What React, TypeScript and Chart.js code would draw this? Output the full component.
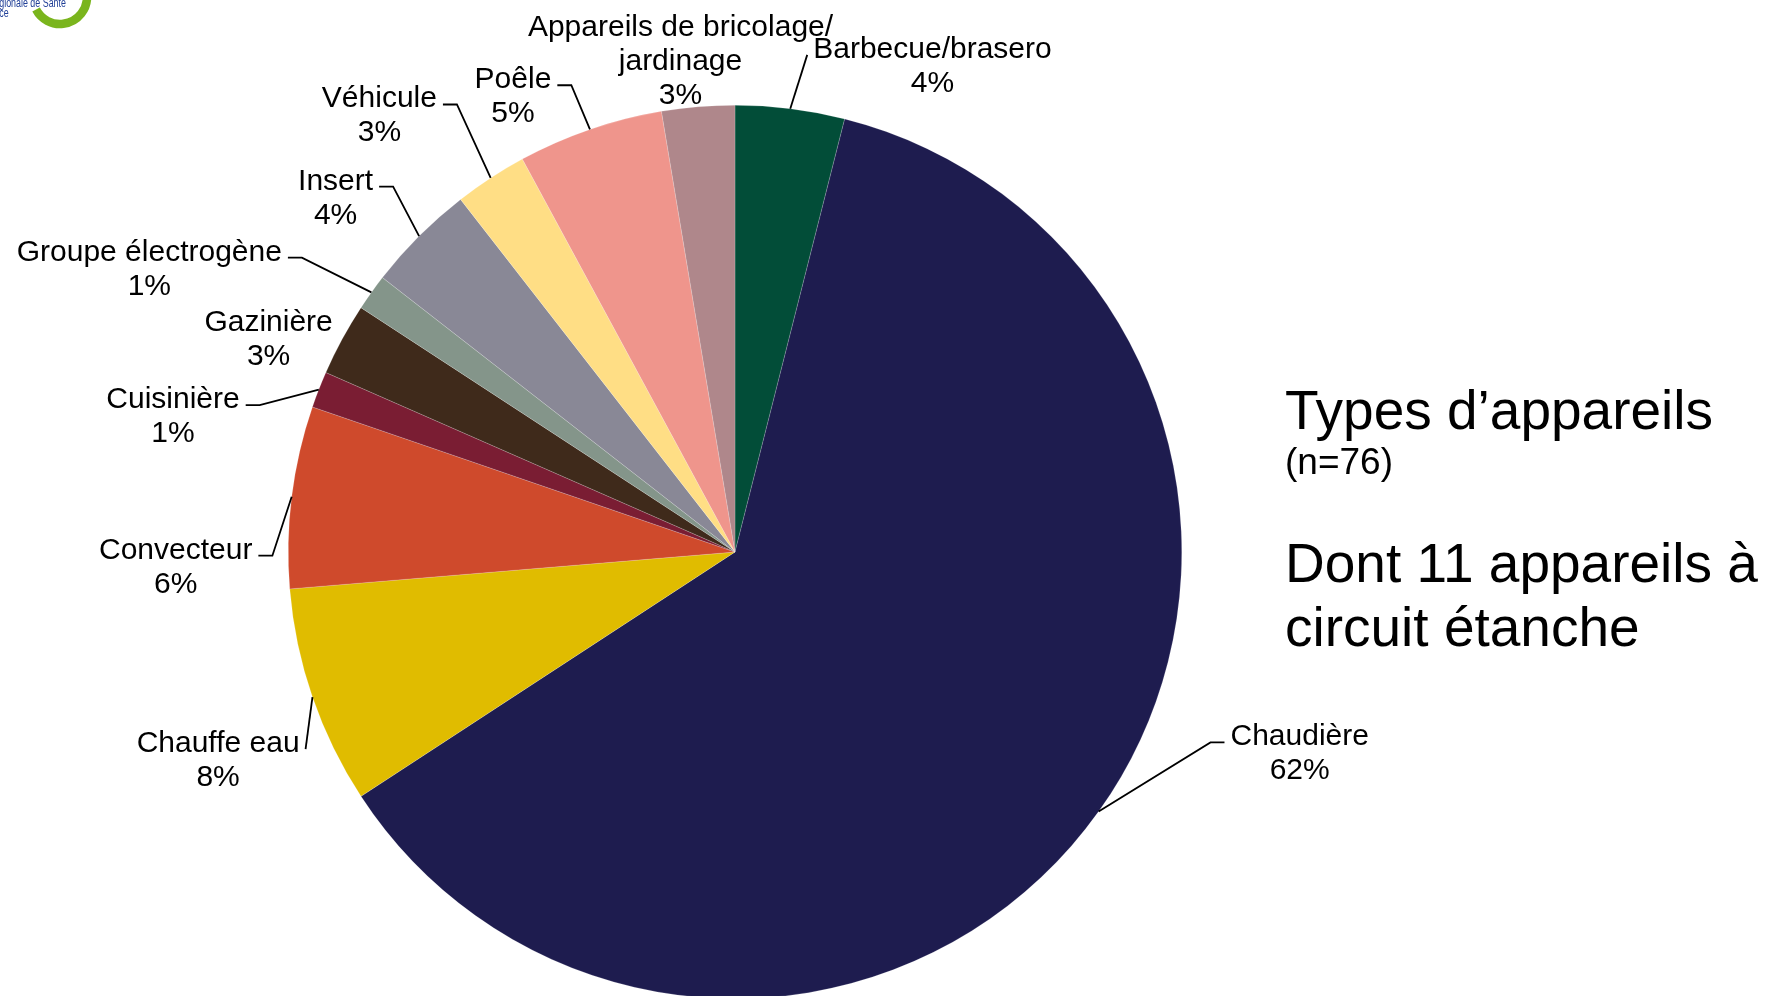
import { useEffect, useRef } from 'react';
import { Chart, registerables, type Plugin, type ArcElement } from 'chart.js';

Chart.register(...registerables);

const CATEGORIES = [
  'Barbecue/brasero',
  'Chaudière',
  'Chauffe eau',
  'Convecteur',
  'Cuisinière',
  'Gazinière',
  'Groupe électrogène',
  'Insert',
  'Véhicule',
  'Poêle',
  'Appareils de bricolage/\njardinage',
];

// number of appliances (n=76)
const COUNTS = [3, 47, 6, 5, 1, 2, 1, 3, 2, 4, 2];

// percentages as printed on the slide
const PERCENT_LABELS = ['4%', '62%', '8%', '6%', '1%', '3%', '1%', '4%', '3%', '5%', '3%'];

const COLORS = [
  '#024D38',
  '#1E1C4F',
  '#E0BC00',
  '#CF4A2C',
  '#7A1D33',
  '#3F2A1B',
  '#84958A',
  '#898896',
  '#FFDE85',
  '#EF958C',
  '#AF878B',
];

const FONT = '"Liberation Sans", Arial, sans-serif';
const LABEL_FONT = `30px ${FONT}`;
const LINE_HEIGHT = 34;

// label placement in pie radii from the centre: x of text centre, y of first baseline
const LABEL_LAYOUT = [
  { dx: 0.442, dy: -1.106, leader: true },
  { dx: 1.264, dy: 0.433, leader: true },
  { dx: -1.157, dy: 0.448, leader: true },
  { dx: -1.252, dy: 0.015, leader: true },
  { dx: -1.258, dy: -0.322, leader: true },
  { dx: -1.044, dy: -0.494, leader: false },
  { dx: -1.311, dy: -0.652, leader: true },
  { dx: -0.894, dy: -0.811, leader: true },
  { dx: -0.796, dy: -0.995, leader: true },
  { dx: -0.497, dy: -1.038, leader: true },
  { dx: -0.122, dy: -1.156, leader: false },
];

const sliceLabels: Plugin<'pie'> = {
  id: 'sliceLabels',
  afterDatasetsDraw(chart) {
    const { ctx } = chart;
    const meta = chart.getDatasetMeta(0);
    ctx.save();
    ctx.font = LABEL_FONT;
    ctx.fillStyle = '#000';
    ctx.strokeStyle = '#000';
    ctx.lineWidth = 1.8;
    ctx.textAlign = 'center';
    ctx.textBaseline = 'alphabetic';
    meta.data.forEach((el, i) => {
      const { x, y, startAngle, endAngle, outerRadius } = (el as ArcElement).getProps(
        ['x', 'y', 'startAngle', 'endAngle', 'outerRadius'],
        true,
      );
      const mid = (startAngle + endAngle) / 2;
      const ex = x + Math.cos(mid) * outerRadius;
      const ey = y + Math.sin(mid) * outerRadius;
      const layout = LABEL_LAYOUT[i];
      const cx = x + layout.dx * outerRadius;
      const by = y + layout.dy * outerRadius;
      const lines = [...CATEGORIES[i].split('\n'), PERCENT_LABELS[i]];
      lines.forEach((t, k) => ctx.fillText(t, cx, by + k * LINE_HEIGHT));

      if (layout.leader) {
        const w = ctx.measureText(lines[0]).width;
        const side = cx < ex ? 1 : -1;
        const sx = cx + side * (w / 2 + 6);
        const sy = by - 3;
        ctx.beginPath();
        ctx.moveTo(sx, sy);
        if (Math.abs(ex - sx) > 20) ctx.lineTo(sx + side * 14, sy);
        ctx.lineTo(ex, ey);
        ctx.stroke();
      }
    });
    ctx.restore();
  },
};

// slide furniture: cut-off logo top left, titles on the right
const decorations: Plugin<'pie'> = {
  id: 'decorations',
  afterDraw(chart) {
    const { ctx } = chart;
    ctx.save();

    ctx.strokeStyle = '#7AB51D';
    ctx.lineWidth = 8.5;
    ctx.beginPath();
    ctx.arc(60, -3, 27, -0.12, 2.66);
    ctx.stroke();

    ctx.fillStyle = '#1F3E96';
    ctx.textAlign = 'left';
    ctx.textBaseline = 'alphabetic';
    ctx.save();
    ctx.scale(0.74, 1);
    ctx.font = `12px ${FONT}`;
    ctx.fillText('gionale de Santé', -1, 7);
    ctx.fillText('ce', -1, 17);
    ctx.restore();

    ctx.fillStyle = '#000';
    ctx.font = `55px ${FONT}`;
    ctx.fillText('Types d’appareils', 1285, 429);
    ctx.font = `37px ${FONT}`;
    ctx.fillText('(n=76)', 1285, 474);
    ctx.font = `55px ${FONT}`;
    ctx.fillText('Dont 11 appareils à', 1285, 582);
    ctx.fillText('circuit étanche', 1285, 646);

    ctx.restore();
  },
};

export default function App() {
  const canvasRef = useRef<HTMLCanvasElement>(null);

  useEffect(() => {
    if (!canvasRef.current) return;
    const chart = new Chart(canvasRef.current, {
      type: 'pie',
      data: {
        labels: CATEGORIES,
        datasets: [
          {
            data: COUNTS,
            backgroundColor: COLORS,
            borderWidth: 0.5,
            borderColor: 'rgba(255,255,255,0.35)',
          },
        ],
      },
      options: {
        responsive: true,
        maintainAspectRatio: false,
        animation: false,
        events: [],
        layout: { padding: { left: 288, right: 585, top: 105, bottom: 5 } },
        plugins: {
          legend: { display: false },
          tooltip: { enabled: false },
        },
      },
      plugins: [sliceLabels, decorations],
    });

    return () => {
      chart.destroy();
    };
  }, []);

  return (
    <div style={{ position: 'fixed', inset: 0, overflow: 'hidden', background: '#fff' }}>
      <div style={{ position: 'relative', width: 1767, height: 1004 }}>
        <canvas ref={canvasRef} role="img" aria-label="Types d’appareils" />
      </div>
    </div>
  );
}
